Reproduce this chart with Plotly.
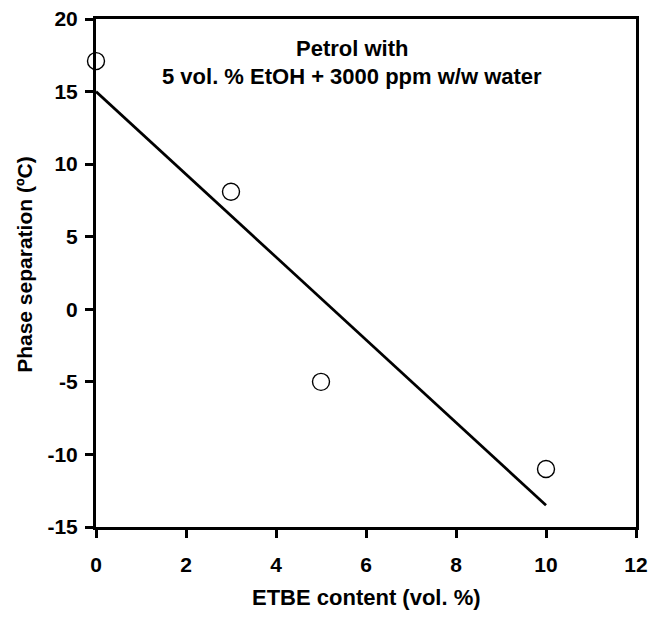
import plotly.graph_objects as go

etbe = [0, 3, 5, 10]
phase_sep = [17.1, 8.1, -5.0, -11.0]
fit_x = [0, 10]
fit_y = [15.0, -13.5]
x_ticks = [0, 2, 4, 6, 8, 10, 12]
y_ticks = [-15, -10, -5, 0, 5, 10, 15, 20]

fam = "Liberation Sans, Arial, sans-serif"
tick_font = dict(family=fam, size=21, color="black")
title_font = dict(family=fam, size=22, color="black")
ytitle_font = dict(family=fam, size=21, color="black")

fig = go.Figure()
fig.add_trace(go.Scatter(x=fit_x, y=fit_y, mode="lines",
                         line=dict(color="black", width=2.7), showlegend=False))
fig.add_trace(go.Scatter(x=etbe, y=phase_sep, mode="markers",
                         marker=dict(symbol="circle", size=17, color="white",
                                     line=dict(color="black", width=1.4)),
                         showlegend=False, cliponaxis=False))

fig.add_annotation(x=0.474, y=18.0, xref="paper", yref="y", showarrow=False,
                   text="<b>Petrol with</b>", font=title_font, yanchor="middle")
fig.add_annotation(x=0.474, y=16.05, xref="paper", yref="y", showarrow=False,
                   text="<b>5 vol. % EtOH + 3000 ppm w/w water</b>", font=title_font,
                   yanchor="middle")
# axis titles
fig.add_annotation(x=0.5, y=-0.138, xref="paper", yref="paper", showarrow=False,
                   text="<b>ETBE content (vol. %)</b>", font=title_font,
                   xanchor="center", yanchor="middle")
fig.add_annotation(x=-0.1315, y=0.518, xref="paper", yref="paper", showarrow=False,
                   text="<b>Phase separation (ºC)</b>", font=ytitle_font, textangle=-90,
                   xanchor="center", yanchor="middle")

axis_common = dict(showgrid=False, zeroline=False, showline=True, linecolor="black",
                   linewidth=3, mirror=True, ticks="outside", ticklen=8, tickwidth=3,
                   tickcolor="black", tickfont=tick_font, automargin=False)

fig.update_xaxes(range=[0, 12], tickvals=x_ticks,
                 ticktext=[f"<b>{v}</b>" for v in x_ticks],
                 ticklabelstandoff=9, **axis_common)
fig.update_yaxes(range=[-15, 20], tickvals=y_ticks,
                 ticktext=[f"<b>{v}</b>" for v in y_ticks],
                 ticklabelstandoff=3, **axis_common)

fig.update_layout(width=651, height=617, margin=dict(l=96, r=15, t=19, b=90),
                  plot_bgcolor="white", paper_bgcolor="white", font=tick_font)

fig.write_html("out.html")
